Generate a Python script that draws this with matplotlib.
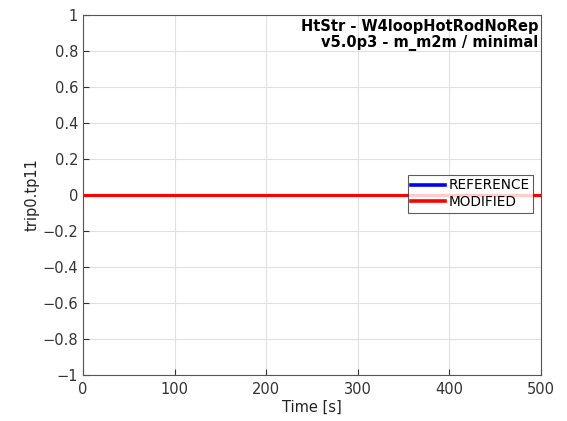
import matplotlib
matplotlib.use('Agg')
import matplotlib.pyplot as plt

# data
time_s = [0, 500]
reference = [0, 0]
modified = [0, 0]
title_lines = ['HtStr - W4loopHotRodNoRep', 'v5.0p3 - m_m2m / minimal']

plt.rcParams['font.family'] = ['DejaVu Sans']

fig = plt.figure(figsize=(5.67, 4.21), dpi=100)
ax = fig.add_axes([83/567, 1-375/421, (541-83)/567, (375-15)/421])

ax.plot(time_s, reference, color='blue', lw=2.2, label='REFERENCE')
ax.plot(time_s, modified, color='red', lw=2.2, label='MODIFIED')

ax.set_xlim(0, 500)
ax.set_ylim(-1, 1)
ax.set_xticks([0, 100, 200, 300, 400, 500])
ax.set_yticks([-1, -0.8, -0.6, -0.4, -0.2, 0, 0.2, 0.4, 0.6, 0.8, 1])
ax.set_yticklabels(['\u22121', '\u22120.8', '\u22120.6', '\u22120.4', '\u22120.2', '0',
                    '0.2', '0.4', '0.6', '0.8', '1'])
ax.grid(True, color='#e0e0e0', lw=0.8)
ax.set_axisbelow(True)
for s in ax.spines.values():
    s.set_color('#555555')
    s.set_linewidth(0.8)
ax.tick_params(colors='#333333', labelsize=10.5, direction='in', length=4, width=0.8)
ax.tick_params(axis='x', pad=5)

ax.set_xlabel('Time [s]', fontsize=10.5, color='#222222', labelpad=2)
ax.set_ylabel('trip0.tp11', fontsize=10.5, color='#222222', labelpad=2)

ax.text(0.995, 0.99, '\n'.join(title_lines), transform=ax.transAxes,
        ha='right', va='top', fontsize=10.5, fontweight='bold', linespacing=1.1)

leg = ax.legend(loc='upper left', bbox_to_anchor=((408-83)/458, 1-(175-15)/360),
                fontsize=9.8, frameon=True, fancybox=False, borderpad=0.25,
                handlelength=2.5, handletextpad=0.25, labelspacing=0.2,
                borderaxespad=0)
leg.get_frame().set_edgecolor('#333333')
leg.get_frame().set_linewidth(0.8)
for h in leg.get_lines():
    h.set_linewidth(2.6)

fig.savefig('out.png', dpi=100)
